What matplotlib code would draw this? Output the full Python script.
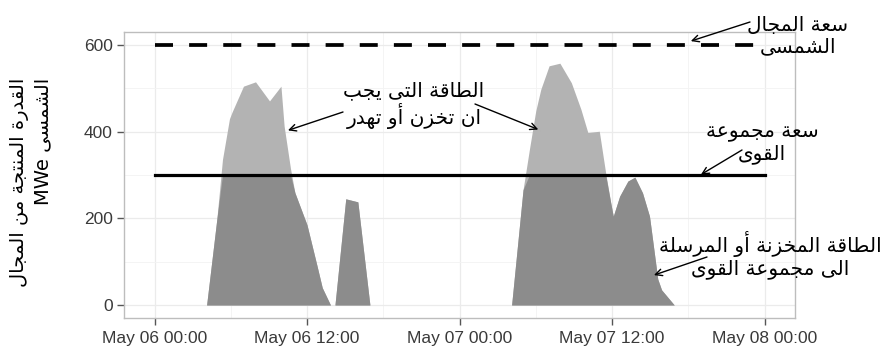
import datetime as dt
import numpy as np
import matplotlib
matplotlib.use("Agg")
import matplotlib.pyplot as plt
import matplotlib.dates as mdates

# ── Data (hours since May 06 00:00, MWe) ─────────────────────────────────────
hours = [4.1, 4.9, 5.35, 5.9, 6.1, 7.0, 7.95, 9.05, 9.95, 10.2, 10.7, 11.05,
         12.0, 12.8, 13.2, 13.85, 14.2, 15.05, 16.0, 16.95,
         28.1, 29.0, 29.5, 30.0, 30.4, 31.05, 31.9, 32.8, 33.55, 34.1, 35.0,
         35.5, 35.9, 36.1, 36.6, 37.25, 37.8, 38.4, 38.95, 39.3, 39.6, 39.9, 40.9]
power = [0, 197, 336, 430, 445, 505, 515, 471, 505, 413, 315, 259,
         185, 89, 40, 0, 0, 245, 238, 0,
         0, 266, 359, 448, 498, 552, 558, 513, 452, 398, 401,
         305, 236, 205, 251, 286, 295, 259, 205, 127, 60, 35, 0]

solar_capacity = 600
grid_capacity = 300
line_span = [0, 48]

ytick_vals = [0, 200, 400, 600]
xtick_hours = [0, 12, 24, 36, 48]

ylabel_txt = "القدرة المنتجة من المجال\nالشمسى MWe"
lbl_solar = "سعة المجال\nالشمسى"
lbl_excess = "الطاقة التى يجب\nان تخزن أو تهدر"
lbl_grid = "سعة مجموعة\nالقوى"
lbl_stored = "الطاقة المخزنة أو المرسلة\nالى مجموعة القوى"

# ── Minimal Arabic shaping (presentation forms) + RTL word order ─────────────
ARABIC = {
    '\u0621': (0xFE80, 1), '\u0622': (0xFE81, 2), '\u0623': (0xFE83, 2),
    '\u0624': (0xFE85, 2), '\u0625': (0xFE87, 2), '\u0626': (0xFE89, 4),
    '\u0627': (0xFE8D, 2), '\u0628': (0xFE8F, 4), '\u0629': (0xFE93, 2),
    '\u062A': (0xFE95, 4), '\u062B': (0xFE99, 4), '\u062C': (0xFE9D, 4),
    '\u062D': (0xFEA1, 4), '\u062E': (0xFEA5, 4), '\u062F': (0xFEA9, 2),
    '\u0630': (0xFEAB, 2), '\u0631': (0xFEAD, 2), '\u0632': (0xFEAF, 2),
    '\u0633': (0xFEB1, 4), '\u0634': (0xFEB5, 4), '\u0635': (0xFEB9, 4),
    '\u0636': (0xFEBD, 4), '\u0637': (0xFEC1, 4), '\u0638': (0xFEC5, 4),
    '\u0639': (0xFEC9, 4), '\u063A': (0xFECD, 4), '\u0641': (0xFED1, 4),
    '\u0642': (0xFED5, 4), '\u0643': (0xFED9, 4), '\u0644': (0xFEDD, 4),
    '\u0645': (0xFEE1, 4), '\u0646': (0xFEE5, 4), '\u0647': (0xFEE9, 4),
    '\u0648': (0xFEED, 2), '\u0649': (0xFEEF, 2), '\u064A': (0xFEF1, 4),
}


def shape_word(w):
    out = []
    for i, c in enumerate(w):
        if c not in ARABIC:
            out.append(c)
            continue
        base, nf = ARABIC[c]
        prev = w[i - 1] if i > 0 else None
        nxt = w[i + 1] if i < len(w) - 1 else None
        jp = prev in ARABIC and ARABIC[prev][1] == 4
        jn = nf == 4 and nxt in ARABIC and ARABIC[nxt][1] > 1
        if jp and jn:
            out.append(chr(base + 3))
        elif jp:
            out.append(chr(base + 1))
        elif jn:
            out.append(chr(base + 2))
        else:
            out.append(chr(base))
    return "".join(out)


def ar(text):
    lines = []
    for line in text.split("\n"):
        words = []
        for w in line.split(" "):
            if any(c in ARABIC for c in w):
                words.append(shape_word(w)[::-1])
            else:
                words.append(w)
        lines.append(" ".join(reversed(words)))
    return "\n".join(lines)


# ── Figure ───────────────────────────────────────────────────────────────────
W, H = 885, 353
AR_FONT = ["DejaVu Sans"]
plt.rcParams["font.family"] = ["Liberation Sans", "DejaVu Sans"]

fig = plt.figure(figsize=(W / 100, H / 100), dpi=100, facecolor="white")
ax = fig.add_axes([124 / W, 1 - 318 / H, (795 - 124) / W, (318 - 32) / H])


def px(x, y):
    return (x / W, 1 - y / H)


t0 = dt.datetime(2013, 5, 6)
times = [t0 + dt.timedelta(hours=h) for h in hours]
pw = np.array(power, dtype=float)

ax.fill_between(times, 0, pw, color="#b3b3b3", lw=0, zorder=2)
ax.fill_between(times, 0, np.minimum(pw, grid_capacity), color="#8c8c8c", lw=0, zorder=3)

span = [t0 + dt.timedelta(hours=h) for h in line_span]
ax.plot(span, [solar_capacity] * 2, color="black", lw=2.7,
        linestyle=(0, (4.8, 4.3)), zorder=4)
ax.plot(span, [grid_capacity] * 2, color="black", lw=2.3, zorder=4)

ax.set_xlim(t0 - dt.timedelta(hours=2.4), t0 + dt.timedelta(hours=50.4))
ax.set_ylim(-30, 630)

ax.set_xticks([t0 + dt.timedelta(hours=h) for h in xtick_hours])
ax.set_xticks([t0 + dt.timedelta(hours=h) for h in [6, 18, 30, 42]], minor=True)
ax.xaxis.set_major_formatter(mdates.DateFormatter("%b %d %H:%M"))
ax.set_yticks(ytick_vals)
ax.set_yticks([100, 300, 500], minor=True)

ax.grid(True, which="major", color="#ebebeb", lw=0.9, zorder=0)
ax.grid(True, which="minor", color="#f3f3f3", lw=0.6, zorder=0)
ax.set_axisbelow(True)
for s in ax.spines.values():
    s.set_color("#bdbdbd")
    s.set_linewidth(1.0)
ax.tick_params(which="major", length=5, width=1, color="#555555",
               labelsize=12.5, labelcolor="#3a3a3a", pad=3)
ax.tick_params(axis="x", pad=4)
ax.tick_params(which="minor", length=0)

# ── Y label (Arabic) ─────────────────────────────────────────────────────────
fig.text(*px(31, 78), ar(ylabel_txt), rotation=90, ha="center", va="top",
         multialignment="right", fontsize=14, family=AR_FONT, linespacing=1.3)

# ── Annotations ──────────────────────────────────────────────────────────────
arrow = dict(arrowstyle="->", color="black", lw=1.0, mutation_scale=12,
             shrinkA=0, shrinkB=0)


def hx(h):
    return mdates.date2num(t0 + dt.timedelta(hours=h))


def note(text, cx, cy, tails, heads):
    fig.text(*px(cx, cy), ar(text), ha="center", va="center",
             multialignment="center", fontsize=14.5, family=AR_FONT,
             linespacing=1.15)
    for (tx, ty), (hh, hv) in zip(tails, heads):
        ax.annotate("", xy=(hx(hh), hv), xycoords="data",
                    xytext=(tx, H - ty), textcoords="figure pixels",
                    arrowprops=arrow, annotation_clip=False)


note(lbl_solar, 798, 36, [(750, 22)], [(42.2, 609)])
note(lbl_excess, 414, 105, [(343, 112), (475, 104)], [(10.5, 403), (30.2, 405)])
note(lbl_grid, 762, 144, [(742, 150)], [(43.0, 301)])
note(lbl_stored, 770, 255, [(707, 257)], [(39.3, 69)])

fig.savefig("out.png", dpi=100, facecolor="white")
